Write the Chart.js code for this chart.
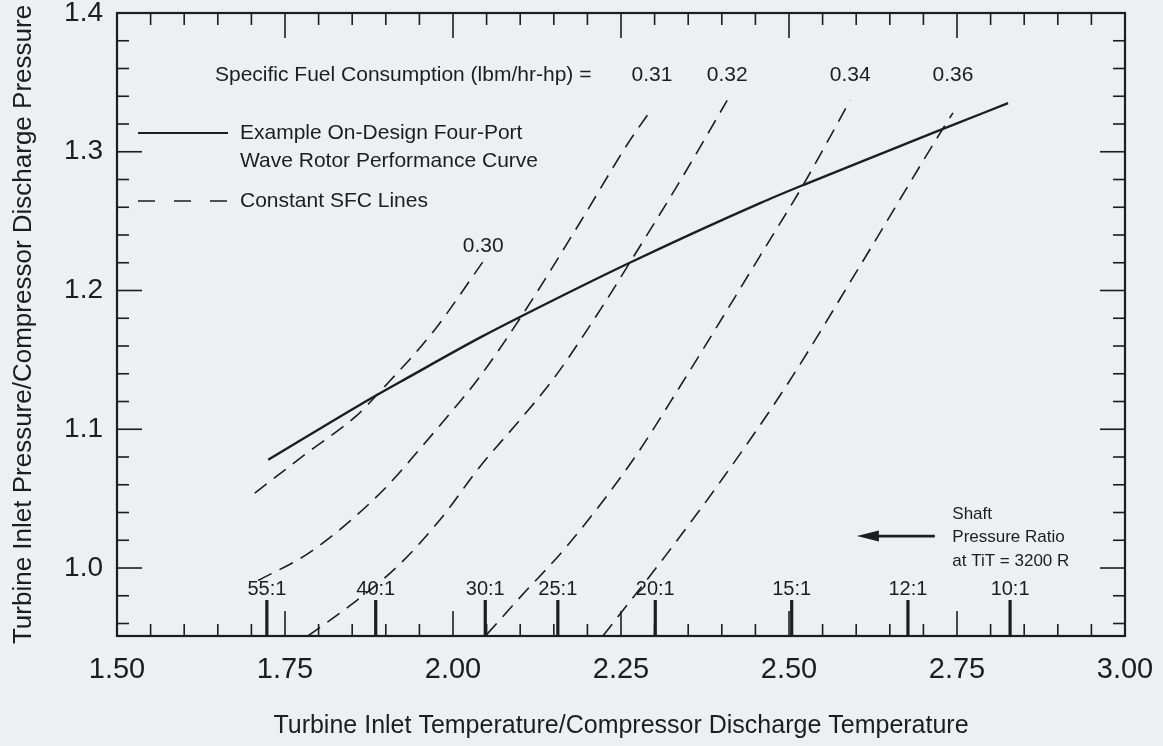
<!DOCTYPE html>
<html>
<head>
<meta charset="utf-8">
<script src="https://cdn.jsdelivr.net/npm/chart.js@4.4.1/dist/chart.umd.min.js"></script>
<style>
  html, body { margin: 0; padding: 0; background: #eeeff2; }
  #wrap { width: 1163px; height: 746px; }
</style>
</head>
<body>
<div id="wrap"><canvas id="c" width="1163" height="746"></canvas></div>
<script>
// ---- Data ----
const perfX = [1.725, 1.877, 1.932, 2.040, 2.104, 2.263, 2.457, 2.521, 2.655, 2.732, 2.826];
const perfY = [1.078, 1.122, 1.137, 1.166, 1.182, 1.220, 1.263, 1.276, 1.302, 1.317, 1.335];

const sfc030X = [1.705, 1.783, 1.857, 1.891, 1.970, 2.045];
const sfc030Y = [1.054, 1.083, 1.110, 1.127, 1.170, 1.221];

const sfc031X = [1.710, 1.783, 1.847, 1.902, 1.951, 2.000, 2.037, 2.104, 2.189, 2.263, 2.296];
const sfc031Y = [0.991, 1.010, 1.034, 1.059, 1.086, 1.114, 1.136, 1.183, 1.249, 1.308, 1.331];

const sfc032X = [1.784, 1.847, 1.917, 1.981, 2.040, 2.100, 2.149, 2.219, 2.263, 2.338, 2.408];
const sfc032Y = [0.951, 0.973, 1.001, 1.035, 1.073, 1.107, 1.136, 1.186, 1.220, 1.279, 1.337];

const sfc034X = [2.050, 2.100, 2.170, 2.268, 2.338, 2.457, 2.521, 2.591];
const sfc034Y = [0.952, 0.979, 1.016, 1.078, 1.131, 1.225, 1.276, 1.337];

const sfc036X = [2.223, 2.318, 2.402, 2.497, 2.606, 2.732, 2.744];
const sfc036Y = [0.951, 1.010, 1.065, 1.132, 1.218, 1.319, 1.328];

const sfcLabels = ['0.30', '0.31', '0.32', '0.34', '0.36'];

const ratioLabels = ['55:1', '40:1', '30:1', '25:1', '20:1', '15:1', '12:1', '10:1'];
const ratioX = [1.723, 1.885, 2.048, 2.156, 2.301, 2.504, 2.677, 2.829];

const xTickLabels = ['1.50', '1.75', '2.00', '2.25', '2.50', '2.75', '3.00'];
const yTickLabels = ['1.0', '1.1', '1.2', '1.3', '1.4'];

const xTitle = 'Turbine Inlet Temperature/Compressor Discharge Temperature';
const yTitle = 'Turbine Inlet Pressure/Compressor Discharge Pressure';
const sfcTitle = 'Specific Fuel Consumption (lbm/hr-hp) =';
const legendSolid = ['Example On-Design Four-Port', 'Wave Rotor Performance Curve'];
const legendDashed = 'Constant SFC Lines';
const shaftText = ['Shaft', 'Pressure Ratio', 'at TiT = 3200 R'];

// ---- Style ----
const INK = '#1d1d1f';
const BG = '#eeeff2';
const FONT = '"Liberation Sans", Arial, Helvetica, sans-serif';
const DASH = [15, 9];

function pts(xs, ys) { return xs.map((x, i) => ({ x: x, y: ys[i] })); }

const sfcSeries = [
  [sfc030X, sfc030Y], [sfc031X, sfc031Y], [sfc032X, sfc032Y], [sfc034X, sfc034Y], [sfc036X, sfc036Y]
];

const datasets = [{
  label: legendSolid.join(' '),
  data: pts(perfX, perfY),
  borderColor: INK, borderWidth: 2.4,
  pointRadius: 0, fill: false, cubicInterpolationMode: 'monotone'
}];
sfcSeries.forEach((s, i) => {
  datasets.push({
    label: 'SFC ' + sfcLabels[i],
    data: pts(s[0], s[1]),
    borderColor: INK, borderWidth: 1.6, borderDash: DASH,
    pointRadius: 0, fill: false, cubicInterpolationMode: 'monotone'
  });
});

function findLabel(list, v) {
  for (const l of list) { if (Math.abs(parseFloat(l) - v) < 1e-6) return l; }
  return '';
}

const deco = {
  id: 'deco',
  beforeDraw(chart) {
    const c = chart.ctx;
    c.save(); c.fillStyle = BG; c.fillRect(0, 0, chart.width, chart.height); c.restore();
  },
  afterDatasetsDraw(chart) {
    const ctx = chart.ctx, a = chart.chartArea, xs = chart.scales.x, ys = chart.scales.y;
    const line = (x1, y1, x2, y2) => { ctx.beginPath(); ctx.moveTo(x1, y1); ctx.lineTo(x2, y2); ctx.stroke(); };
    ctx.save();
    ctx.strokeStyle = INK; ctx.fillStyle = INK; ctx.lineCap = 'butt';

    // frame
    ctx.lineWidth = 2.2;
    ctx.strokeRect(a.left, a.top, a.right - a.left, a.bottom - a.top);

    // inward ticks, x (top and bottom)
    ctx.lineWidth = 1.6;
    for (let i = 1; i < 30; i++) {
      const v = 1.5 + i * 0.05;
      const px = xs.getPixelForValue(v);
      const len = (i % 5 === 0) ? 25 : 12;
      line(px, a.top, px, a.top + len);
      line(px, a.bottom, px, a.bottom - len);
    }
    // inward ticks, y (left and right)
    for (let i = 0; i < 22; i++) {
      const v = 0.96 + i * 0.02;
      const py = ys.getPixelForValue(v);
      const major = Math.abs(v * 10 - Math.round(v * 10)) < 1e-6;
      const len = major ? 25 : 12;
      line(a.left, py, a.left + len, py);
      line(a.right, py, a.right - len, py);
    }

    // shaft pressure ratio markers
    ctx.lineWidth = 3.2;
    ctx.font = '20px ' + FONT;
    ctx.textAlign = 'center'; ctx.textBaseline = 'middle';
    ratioX.forEach((v, i) => {
      const px = xs.getPixelForValue(v);
      line(px, a.bottom, px, a.bottom - 36);
      ctx.fillText(ratioLabels[i], px, a.bottom - 47);
    });

    // SFC labels
    ctx.font = '21px ' + FONT;
    const rowY = ys.getPixelForValue(1.355);
    sfcSeries.forEach((s, i) => {
      const lx = xs.getPixelForValue(s[0][s[0].length - 1]);
      let ly = rowY;
      if (i === 0) ly = ys.getPixelForValue(s[1][s[1].length - 1]) - 15;
      ctx.fillText(sfcLabels[i], lx, ly);
    });
    ctx.textAlign = 'left';
    ctx.fillText(sfcTitle, a.left + 98, rowY);

    // legend
    const lx1 = a.left + 21, lx2 = a.left + 111, tx = a.left + 123;
    ctx.lineWidth = 2.2;
    line(lx1, a.top + 120, lx2, a.top + 120);
    ctx.fillText(legendSolid[0], tx, a.top + 120);
    ctx.fillText(legendSolid[1], tx, a.top + 148);
    ctx.lineWidth = 1.7;
    ctx.setLineDash([17, 19]);
    line(lx1, a.top + 188, lx2, a.top + 188);
    ctx.setLineDash([]);
    ctx.fillText(legendDashed, tx, a.top + 188);

    // arrow and shaft note
    const ay = ys.getPixelForValue(1.023);
    const ax1 = xs.getPixelForValue(2.601), ax2 = xs.getPixelForValue(2.717);
    ctx.lineWidth = 2.6;
    line(ax1 + 18, ay, ax2, ay);
    ctx.beginPath();
    ctx.moveTo(ax1, ay); ctx.lineTo(ax1 + 22, ay - 5.5); ctx.lineTo(ax1 + 22, ay + 5.5); ctx.closePath(); ctx.fill();
    ctx.font = '17px ' + FONT;
    const sx = xs.getPixelForValue(2.743);
    ctx.fillText(shaftText[0], sx, ay - 22);
    ctx.fillText(shaftText[1], sx, ay + 1);
    ctx.fillText(shaftText[2], sx, ay + 25);

    ctx.restore();
  }
};

new Chart(document.getElementById('c'), {
  type: 'line',
  data: { datasets: datasets },
  options: {
    responsive: false,
    animation: false,
    devicePixelRatio: 1,
    layout: { padding: { top: 13, right: 38, left: 0, bottom: 0 } },
    plugins: { legend: { display: false }, tooltip: { enabled: false } },
    scales: {
      x: {
        type: 'linear', position: 'bottom', min: 1.5, max: 3.0,
        grid: { display: false, drawTicks: false },
        border: { display: false },
        ticks: {
          stepSize: 0.25, autoSkip: false, maxRotation: 0, padding: 17,
          color: INK, font: { family: FONT, size: 29 },
          callback: (v) => findLabel(xTickLabels, v)
        },
        title: { display: true, text: xTitle, color: INK, font: { family: FONT, size: 25 }, padding: { top: 0, bottom: 5 } },
        afterFit(s) { s.height = 110; s.paddingLeft = 0; s.paddingRight = 0; }
      },
      y: {
        type: 'linear', position: 'left', min: 0.951, max: 1.4,
        grid: { display: false, drawTicks: false },
        border: { display: false },
        ticks: {
          stepSize: 0.1, autoSkip: false, padding: 14,
          color: INK, font: { family: FONT, size: 28 },
          callback: (v) => findLabel(yTickLabels, v)
        },
        title: { display: true, text: yTitle, color: INK, font: { family: FONT, size: 26 }, padding: { top: 8, bottom: 0 } },
        afterFit(s) { s.width = 117; s.paddingTop = 0; s.paddingBottom = 0; }
      }
    }
  },
  plugins: [deco]
});
</script>
</body>
</html>
